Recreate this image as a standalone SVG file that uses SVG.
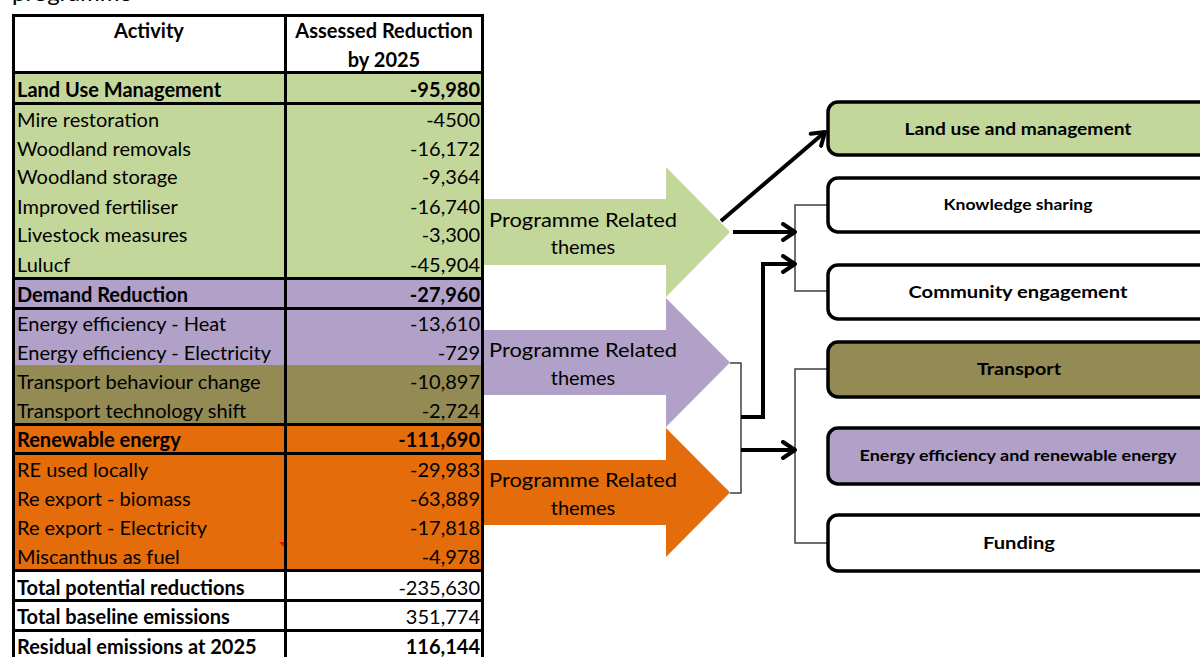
<svg xmlns="http://www.w3.org/2000/svg" width="1200" height="657" viewBox="0 0 1200 657">
<style>
text{font-family:Lato,"Open Sans","Liberation Sans",sans-serif;fill:#000}
.t{font-size:20px}
.b{font-weight:bold}
.r{text-anchor:end}
.c{text-anchor:middle}
.grid{stroke:#000;stroke-width:3;fill:none}
.thick{stroke:#000;stroke-width:4;fill:none;stroke-linejoin:miter}
.thin{stroke:#404040;stroke-width:1.5;fill:none}
.box{stroke:#000;stroke-width:3.5}
.bt{font-size:17px;font-weight:bold;text-anchor:middle}
.at{font-size:20px;text-anchor:middle}
.g{fill:#C4D79B}.p{fill:#B1A0C7}.o{fill:#948A54}.or{fill:#E46C0A}.w{fill:#fff}
</style>
<defs>
<marker id="ah" markerUnits="userSpaceOnUse" markerWidth="18" markerHeight="20" viewBox="0 0 18 20" refX="15" refY="10" orient="auto">
<path d="M3,2 L15,10 L3,18" fill="none" stroke="#000" stroke-width="4" stroke-linecap="round" stroke-linejoin="round"/>
</marker>
</defs>
<rect width="1200" height="657" fill="#fff"/>
<text x="12" y="1" style="font-size:22px" textLength="120" lengthAdjust="spacingAndGlyphs">programme</text>

<g id="table">
<rect class="g" x="13" y="72" width="470" height="206"/>
<rect class="p" x="13" y="278" width="470" height="87"/>
<rect class="o" x="13" y="365" width="470" height="59"/>
<rect class="or" x="13" y="424" width="470" height="146"/>
<polygon points="279,542 284,542 284,547" fill="#f00"/>
<path class="grid" d="M13.5,14 V657 M285.5,14 V657 M482.5,14 V657 M12,15.5 H484 M12,72.5 H484 M12,103.5 H484 M12,278.5 H484 M12,308.5 H484 M12,424.5 H484 M12,453.5 H484 M12,570.5 H484 M12,600.5 H484 M12,630.5 H484"/>
<g class="t">
<text class="b c" x="149" y="38">Activity</text>
<text class="b c" x="384" y="38">Assessed Reduction</text>
<text class="b c" x="384" y="67">by 2025</text>
<text class="b" x="17" y="97">Land Use Management</text><text class="b r" x="480" y="97">-95,980</text>
<text x="17" y="127">Mire restoration</text><text class="r" x="480" y="127">-4500</text>
<text x="17" y="156">Woodland removals</text><text class="r" x="480" y="156">-16,172</text>
<text x="17" y="184">Woodland storage</text><text class="r" x="480" y="184">-9,364</text>
<text x="17" y="214">Improved fertiliser</text><text class="r" x="480" y="214">-16,740</text>
<text x="17" y="242">Livestock measures</text><text class="r" x="480" y="242">-3,300</text>
<text x="17" y="272">Lulucf</text><text class="r" x="480" y="272">-45,904</text>
<text class="b" x="17" y="302">Demand Reduction</text><text class="b r" x="480" y="302">-27,960</text>
<text x="17" y="331">Energy efficiency - Heat</text><text class="r" x="480" y="331">-13,610</text>
<text x="17" y="360">Energy efficiency - Electricity</text><text class="r" x="480" y="360">-729</text>
<text x="17" y="389">Transport behaviour change</text><text class="r" x="480" y="389">-10,897</text>
<text x="17" y="418">Transport technology shift</text><text class="r" x="480" y="418">-2,724</text>
<text class="b" x="17" y="447">Renewable energy</text><text class="b r" x="480" y="447">-111,690</text>
<text x="17" y="477">RE used locally</text><text class="r" x="480" y="477">-29,983</text>
<text x="17" y="506">Re export - biomass</text><text class="r" x="480" y="506">-63,889</text>
<text x="17" y="535">Re export - Electricity</text><text class="r" x="480" y="535">-17,818</text>
<text x="17" y="564">Miscanthus as fuel</text><text class="r" x="480" y="564">-4,978</text>
<text class="b" x="17" y="595">Total potential reductions</text><text class="r" x="480" y="595">-235,630</text>
<text class="b" x="17" y="624">Total baseline emissions</text><text class="r" x="480" y="624">351,774</text>
<text class="b" x="17" y="654">Residual emissions at 2025</text><text class="b r" x="480" y="654">116,144</text>
</g>
</g>

<g id="arrow-green">
<polygon class="g" points="484,199 666,199 666,167 730,232 666,297 666,265 484,265"/>
<text class="at" x="583" y="227" textLength="188" lengthAdjust="spacingAndGlyphs">Programme Related</text>
<text class="at" x="583" y="254">themes</text>
</g>
<g id="arrow-purple">
<polygon class="p" points="484,330 666,330 666,298 730,362.5 666,427 666,395 484,395"/>
<text class="at" x="583" y="357" textLength="188" lengthAdjust="spacingAndGlyphs">Programme Related</text>
<text class="at" x="583" y="385">themes</text>
</g>
<g id="arrow-orange">
<polygon class="or" points="484,460 666,460 666,428 730,492.5 666,557 666,525 484,525"/>
<text class="at" x="583" y="487" textLength="188" lengthAdjust="spacingAndGlyphs">Programme Related</text>
<text class="at" x="583" y="515">themes</text>
</g>

<g id="connectors">
<path class="thin" d="M827,205 H795 V291 H827"/>
<path class="thin" d="M730,363 H741 V493 H730"/>
<path class="thin" d="M827,369 H795 V543 H827"/>
<path class="thick" d="M721,221 L825,132" marker-end="url(#ah)"/>
<path class="thick" d="M733,232 H795" marker-end="url(#ah)"/>
<path class="thick" d="M741,417 H763 V264 H795" marker-end="url(#ah)"/>
<path class="thick" d="M741,450 H795" marker-end="url(#ah)"/>
</g>

<g id="box-land">
<rect class="box g" x="828" y="102" width="390" height="53" rx="10"/>
<text class="bt" x="1018" y="135" textLength="227" lengthAdjust="spacingAndGlyphs">Land use and management</text>
</g>
<g id="box-knowledge">
<rect class="box w" x="828" y="178" width="390" height="54" rx="10"/>
<text class="bt" x="1018" y="210" style="font-size:15.5px" textLength="149" lengthAdjust="spacingAndGlyphs">Knowledge sharing</text>
</g>
<g id="box-community">
<rect class="box w" x="828" y="265" width="390" height="54" rx="10"/>
<text class="bt" x="1018" y="298" textLength="219" lengthAdjust="spacingAndGlyphs">Community engagement</text>
</g>
<g id="box-transport">
<rect class="box o" x="828" y="342" width="390" height="55" rx="10"/>
<text class="bt" x="1019" y="375" textLength="84" lengthAdjust="spacingAndGlyphs">Transport</text>
</g>
<g id="box-energy">
<rect class="box p" x="828" y="428" width="390" height="56" rx="10"/>
<text class="bt" x="1018" y="461" style="font-size:15.5px" textLength="317" lengthAdjust="spacingAndGlyphs">Energy efficiency and renewable energy</text>
</g>
<g id="box-funding">
<rect class="box w" x="828" y="515" width="390" height="56" rx="10"/>
<text class="bt" x="1019" y="549" textLength="72" lengthAdjust="spacingAndGlyphs">Funding</text>
</g>
</svg>
